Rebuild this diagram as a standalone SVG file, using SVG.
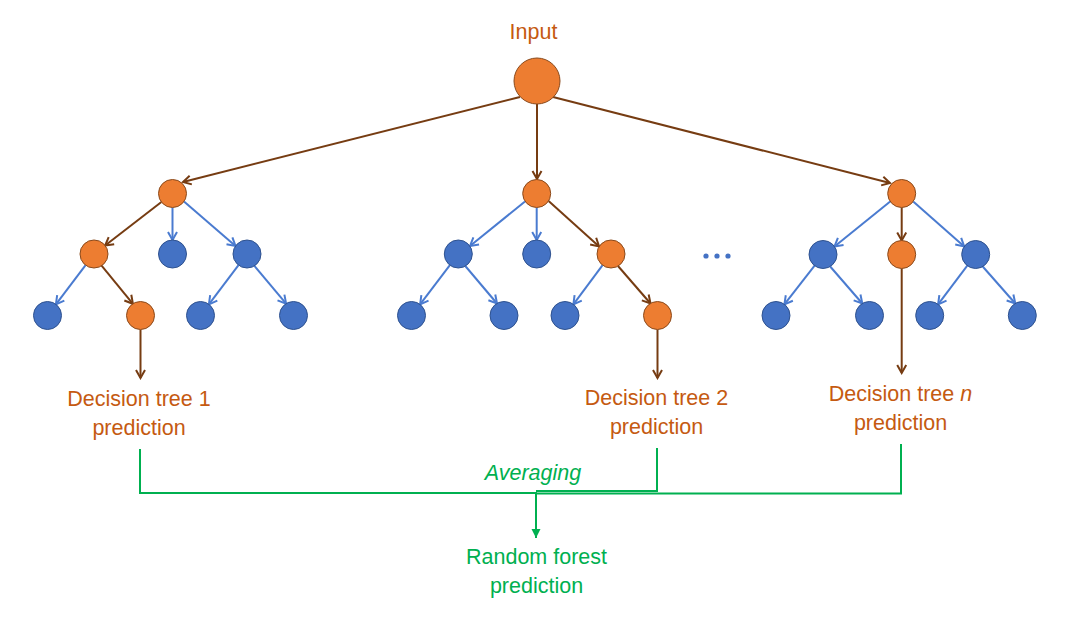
<svg xmlns="http://www.w3.org/2000/svg" width="1074" height="621" viewBox="0 0 1074 621">
<defs>
<style>
.o{fill:#ED7D31;stroke:#8A4A1C;stroke-width:1}
.b{fill:#4472C4;stroke:#2F528F;stroke-width:1}
.eb{stroke:#763C12;stroke-width:2;fill:none;marker-end:url(#ab)}
.el{stroke:#4A7BD0;stroke-width:2;fill:none;marker-end:url(#al)}
.g{stroke:#00B050;stroke-width:2;fill:none}
.t{font-family:"Liberation Sans",Arial,sans-serif;font-size:21.5px;text-anchor:middle}
.to{fill:#C55A11}
.tg{fill:#00B050}
</style>
<marker id="ab" viewBox="0 0 12 12" markerUnits="userSpaceOnUse" markerWidth="12" markerHeight="12" refX="10" refY="6" orient="auto"><path d="M2,1.5 L10,6 L2,10.5" fill="none" stroke="#763C12" stroke-width="2"/></marker>
<marker id="al" viewBox="0 0 12 12" markerUnits="userSpaceOnUse" markerWidth="12" markerHeight="12" refX="10" refY="6" orient="auto"><path d="M2,1.5 L10,6 L2,10.5" fill="none" stroke="#4A7BD0" stroke-width="2"/></marker>
<marker id="ag" viewBox="0 0 10 10" markerUnits="userSpaceOnUse" markerWidth="10" markerHeight="10" refX="9" refY="5" orient="auto"><path d="M0,0.5 L9,5 L0,9.5 Z" fill="#00B050"/></marker>
</defs>
<rect width="1074" height="621" fill="#fff"/>
<g id="connectors">
<path class="eb" d="M520,97 L183,182"/>
<path class="eb" d="M537,104 L537,179"/>
<path class="eb" d="M553,97 L890,183"/>
<path class="eb" d="M161.4,202 L105.1,245.5"/>
<path class="el" d="M172.5,207.5 L172.5,240"/>
<path class="el" d="M184,201.5 L235.5,246"/>
<path class="el" d="M85.6,265.2 L55.9,304.3"/>
<path class="eb" d="M101.6,265.7 L132.9,303.8"/>
<path class="el" d="M238.5,265.2 L208.9,304.3"/>
<path class="el" d="M254.4,265.9 L286.1,303.6"/>
<path class="eb" d="M140.5,329.5 L140.5,378"/>
<path class="el" d="M525,201.5 L470,246"/>
<path class="el" d="M536.7,207.5 L536.7,240"/>
<path class="eb" d="M548.6,201 L599.1,246.5"/>
<path class="el" d="M449.9,265.2 L420.1,304.3"/>
<path class="el" d="M465.3,266 L497,303.5"/>
<path class="el" d="M602.6,265.2 L573.4,304.3"/>
<path class="eb" d="M618,266 L650.5,303.5"/>
<path class="eb" d="M657.5,329.5 L657.5,378"/>
<path class="el" d="M890.2,201.5 L834.5,246.5"/>
<path class="eb" d="M901.7,207.5 L901.7,240.5"/>
<path class="el" d="M913.2,201.5 L964.2,246.5"/>
<path class="el" d="M814.6,265.7 L784.4,304.3"/>
<path class="el" d="M830.2,266.5 L862.3,303.5"/>
<path class="el" d="M967.3,265.7 L938.1,304.3"/>
<path class="el" d="M982.7,266.5 L1015.3,303.5"/>
<path class="eb" d="M901.7,268.5 L901.7,373"/>
<path class="g" d="M140,449 V493 H536"/>
<path class="g" d="M657,448 V491 H536"/>
<path class="g" d="M901,444 V493.5 H536"/>
<path class="g" d="M536,492 V538" marker-end="url(#ag)"/>
</g>
<g id="input"><circle class="o" cx="537" cy="81" r="23"/><text class="t to" x="533.5" y="39">Input</text></g>
<g id="tree1">
<circle class="o" cx="172.5" cy="193.5" r="14"/>
<circle class="o" cx="94" cy="254" r="14"/>
<circle class="b" cx="172.5" cy="254" r="14"/>
<circle class="b" cx="247" cy="254" r="14"/>
<circle class="b" cx="47.5" cy="315.5" r="14"/>
<circle class="o" cx="140.5" cy="315.5" r="14"/>
<circle class="b" cx="200.5" cy="315.5" r="14"/>
<circle class="b" cx="293.5" cy="315.5" r="14"/>
</g>
<g id="tree2">
<circle class="o" cx="536.7" cy="193.5" r="14"/>
<circle class="b" cx="458.3" cy="254" r="14"/>
<circle class="b" cx="536.7" cy="254" r="14"/>
<circle class="o" cx="611" cy="254" r="14"/>
<circle class="b" cx="411.5" cy="315.5" r="14"/>
<circle class="b" cx="504" cy="315.5" r="14"/>
<circle class="b" cx="565" cy="315.5" r="14"/>
<circle class="o" cx="657.5" cy="315.5" r="14"/>
</g>
<g id="tree3">
<circle class="o" cx="901.7" cy="193.5" r="14"/>
<circle class="b" cx="823" cy="254.5" r="14"/>
<circle class="o" cx="901.7" cy="254.5" r="14"/>
<circle class="b" cx="975.7" cy="254.5" r="14"/>
<circle class="b" cx="776" cy="315.5" r="14"/>
<circle class="b" cx="869.5" cy="315.5" r="14"/>
<circle class="b" cx="929.7" cy="315.5" r="14"/>
<circle class="b" cx="1022.3" cy="315.5" r="14"/>
</g>
<g id="ellipsis" fill="#4472C4"><circle cx="706" cy="256" r="2.6"/><circle cx="717" cy="256" r="2.6"/><circle cx="728" cy="256" r="2.6"/></g>
<g id="label1"><text class="t to" x="139" y="406">Decision tree 1</text><text class="t to" x="139" y="435">prediction</text></g>
<g id="label2"><text class="t to" x="656.5" y="405">Decision tree 2</text><text class="t to" x="656.5" y="434">prediction</text></g>
<g id="labeln"><text class="t to" x="900.5" y="401">Decision tree <tspan font-style="italic">n</tspan></text><text class="t to" x="900.5" y="430">prediction</text></g>
<g id="averaging"><text class="t tg" x="533" y="480" font-style="italic">Averaging</text></g>
<g id="result"><text class="t tg" x="536.5" y="564">Random forest</text><text class="t tg" x="536.5" y="593">prediction</text></g>
</svg>
